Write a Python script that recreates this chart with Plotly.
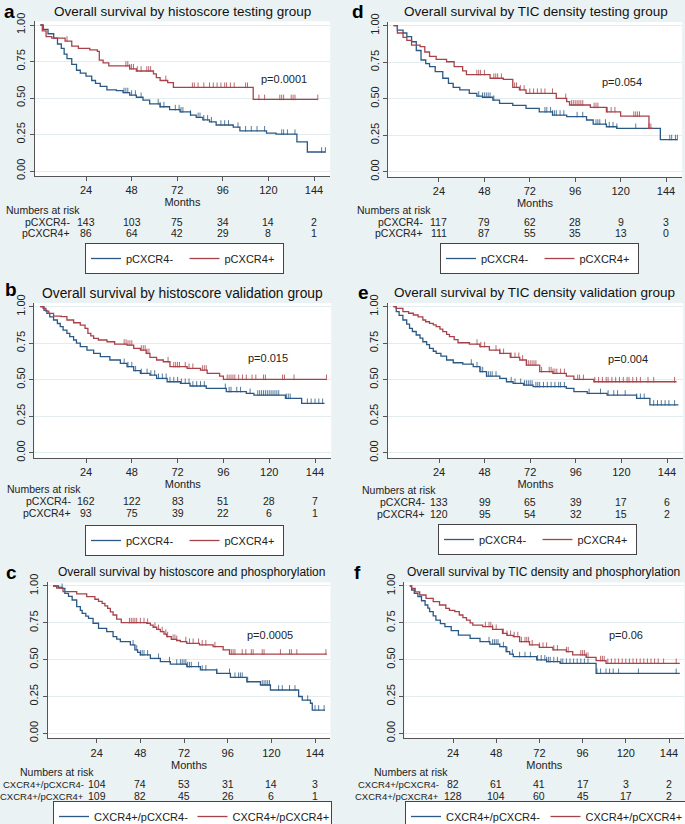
import numpy as np
import plotly.graph_objects as go

W, H = 685, 824
BLUE = "#2b5884"
RED = "#a8424a"
BG = "#eaf2f3"
FONT = "Liberation Sans, Arial, sans-serif"

MONTH_TICKS = [24, 48, 72, 96, 120, 144]

# ---- panel a: histoscore testing group ----
A_NEG_T = [0, 1.5, 4, 7, 9, 11, 12.5, 14, 16.5, 19, 21, 24, 27, 29, 31.5, 35, 40, 43.5, 47, 50.5, 54,
           57.5, 63, 68, 73.5, 79, 82, 85.5, 89, 92.5, 101.5, 105, 119, 124, 135, 140.5, 150]
A_NEG_S = [1, 0.97, 0.94, 0.91, 0.87, 0.84, 0.80, 0.77, 0.73, 0.69, 0.67, 0.65, 0.62, 0.60, 0.58, 0.555,
           0.55, 0.537, 0.52, 0.505, 0.486, 0.46, 0.44, 0.42, 0.405, 0.383, 0.367, 0.35, 0.337, 0.315,
           0.30, 0.275, 0.26, 0.252, 0.20, 0.13, 0.13]
A_NEG_C = [44, 45, 46, 48, 50, 53, 62, 63, 65, 71, 73, 74, 75, 79, 83, 84, 86, 88, 90, 95, 97, 99, 104,
           108, 111, 114, 118, 127, 128, 130, 134, 148, 150]
A_POS_T = [0, 1, 3, 6, 13, 16.5, 20, 26, 30, 31, 33, 36, 47, 50.5, 59.5, 61, 63, 67, 70, 112, 146]
A_POS_S = [1, 0.96, 0.92, 0.91, 0.89, 0.855, 0.84, 0.83, 0.82, 0.76, 0.74, 0.72, 0.70, 0.685, 0.665,
           0.64, 0.62, 0.605, 0.573, 0.49, 0.49]
A_POS_C = [14, 45, 46, 47, 48, 49, 51, 53, 56, 57, 58, 66, 80, 81, 83, 86, 89, 91, 93, 95, 97, 98, 100,
           102, 108, 109, 115, 118, 126, 127, 128, 132, 133, 134, 146]
A_RISK_NEG = [143, 103, 75, 34, 14, 2]
A_RISK_POS = [86, 64, 42, 29, 8, 1]

# ---- panel b: histoscore validation group ----
B_NEG_T = [0, 2, 3.5, 5, 7, 9, 10.5, 12, 14, 15.5, 17.5, 19, 21, 24.5, 28, 31.5, 36.5, 42, 45.5, 49,
           52.5, 57.5, 61, 66.5, 73.5, 78.5, 87, 97.5, 108, 112, 128.5, 137, 149]
B_NEG_S = [1, 0.975, 0.954, 0.93, 0.909, 0.885, 0.863, 0.84, 0.817, 0.795, 0.772, 0.75, 0.726, 0.703,
           0.68, 0.658, 0.635, 0.612, 0.589, 0.562, 0.543, 0.532, 0.509, 0.486, 0.475, 0.457, 0.44,
           0.418, 0.406, 0.395, 0.372, 0.338, 0.338]
B_NEG_C = [44, 46, 48, 50, 53, 56, 58, 60, 62, 64, 66, 68, 70, 72, 74, 76, 78, 80, 82, 84, 86, 97, 99,
           100, 103, 105, 110, 114, 115, 116, 117, 118, 119, 120, 121, 122, 123, 124, 125, 129, 130, 131,
           140, 142, 144, 146, 148]
B_POS_T = [0, 1.5, 3, 4.5, 7, 11, 14, 17.5, 21, 23.5, 25, 26.5, 28, 30.5, 35, 39, 45.5, 49, 52.5, 55.5,
           57.5, 61, 64.5, 68, 77, 84, 87.5, 94, 96, 150]
B_POS_S = [1, 0.989, 0.97, 0.954, 0.936, 0.932, 0.909, 0.89, 0.874, 0.852, 0.817, 0.80, 0.783, 0.772,
           0.76, 0.744, 0.737, 0.715, 0.703, 0.68, 0.653, 0.635, 0.623, 0.589, 0.578, 0.566, 0.543,
           0.525, 0.502, 0.502]
B_POS_C = [44, 45, 46, 47, 48, 53, 54, 55, 56, 57, 67, 70, 71, 72, 73, 76, 78, 80, 85, 86, 87, 98, 99,
           100, 101, 102, 104, 106, 108, 111, 113, 117, 118, 127, 128, 133, 150]
B_RISK_NEG = [162, 122, 83, 51, 28, 7]
B_RISK_POS = [93, 75, 39, 22, 6, 1]

# ---- panel c: histoscore and phosphorylation ----
C_NEG_T = [0, 3, 5, 6.5, 8.5, 10.5, 13, 15, 16, 18, 19.5, 22, 25, 29.5, 33, 35, 37, 42.5, 45, 46.5, 48,
           53.5, 59, 64.5, 73.5, 81, 90, 97.5, 106.5, 114, 119.5, 135, 137, 141.5, 142.5, 149.5]
C_NEG_S = [1, 0.99, 0.984, 0.95, 0.93, 0.905, 0.86, 0.835, 0.814, 0.795, 0.78, 0.747, 0.713, 0.69,
           0.656, 0.64, 0.622, 0.60, 0.566, 0.55, 0.532, 0.509, 0.486, 0.47, 0.452, 0.43, 0.407, 0.38,
           0.35, 0.328, 0.294, 0.25, 0.225, 0.204, 0.158, 0.158]
C_NEG_C = [5, 44, 46, 48, 49, 50, 52, 58, 64, 68, 70, 71, 72, 73, 74, 75, 76, 80, 82, 84, 90, 97, 100,
           102, 103, 104, 107, 115, 116, 117, 118, 119, 124, 126, 130, 133, 140, 144, 146, 149]
C_POS_T = [0, 2, 5.5, 13, 18.5, 23, 25, 27, 28.5, 30, 31.5, 33, 35, 37.5, 51.5, 53.5, 55, 57, 59, 61,
           62.5, 65, 68, 70, 73.5, 80.5, 88, 93.5, 97, 150.5]
C_POS_S = [1, 0.985, 0.962, 0.946, 0.928, 0.91, 0.895, 0.882, 0.865, 0.848, 0.825, 0.803, 0.775, 0.751,
           0.747, 0.735, 0.72, 0.705, 0.69, 0.673, 0.656, 0.638, 0.63, 0.622, 0.611, 0.60, 0.588, 0.566,
           0.538, 0.538]
C_POS_C = [42, 43, 44, 45, 46, 48, 50, 52, 56, 58, 60, 62, 63, 66, 67, 68, 73, 75, 77, 80, 82, 84, 89,
           97, 98, 99, 100, 104, 106, 109, 110, 115, 116, 125, 130, 131, 134, 150]
C_RISK_NEG = [104, 74, 53, 31, 14, 3]
C_RISK_POS = [109, 82, 45, 26, 6, 1]

# ---- panel d: TIC density testing group ----
D_NEG_T = [0, 2, 5, 7, 9.5, 12, 14.5, 17, 19, 22, 26, 29, 31.5, 35, 40, 44, 47, 52.5, 56, 63, 70, 77,
           84, 91.5, 102, 105.5, 112.5, 118, 141, 150]
D_NEG_S = [1, 0.97, 0.95, 0.925, 0.89, 0.83, 0.765, 0.74, 0.72, 0.685, 0.64, 0.605, 0.578, 0.56, 0.537,
           0.518, 0.51, 0.49, 0.468, 0.454, 0.434, 0.41, 0.388, 0.377, 0.354, 0.326, 0.308, 0.297,
           0.22, 0.22]
D_NEG_C = [45, 47, 48, 49, 50, 51, 53, 80, 81, 83, 84, 85, 86, 88, 90, 97, 100, 107, 108, 109, 112,
           114, 116, 118, 128, 146, 147, 149, 150]
D_POS_T = [0, 2, 5, 7, 9.5, 14, 16.5, 19, 22.5, 28, 32, 36.5, 38.5, 51, 58, 63, 66.5, 70, 86, 91.5, 93,
           104, 112.5, 120, 135, 137]
D_POS_S = [1, 0.95, 0.92, 0.90, 0.867, 0.856, 0.82, 0.79, 0.77, 0.753, 0.72, 0.69, 0.665, 0.64, 0.632,
           0.578, 0.56, 0.537, 0.502, 0.48, 0.457, 0.44, 0.41, 0.38, 0.297, 0.297]
D_POS_C = [44, 45, 46, 48, 53, 54, 55, 57, 64, 65, 67, 69, 72, 74, 76, 78, 80, 84, 91, 94, 95, 96, 97,
           98, 99, 100, 106, 107, 108, 113, 115, 117, 127, 128, 129, 130, 135, 136]
D_RISK_NEG = [117, 79, 62, 28, 9, 3]
D_RISK_POS = [111, 87, 55, 35, 13, 0]

# ---- panel e: TIC density validation group ----
E_NEG_T = [0, 1.5, 3, 5, 7, 8.5, 10, 12, 14, 15.5, 17.5, 19, 21, 22.5, 25, 28, 31.5, 36.5, 42, 45.5,
           49, 56, 59.5, 63, 68.5, 73.5, 91, 95, 102, 112.5, 128, 135, 150]
E_NEG_S = [1, 0.966, 0.94, 0.909, 0.88, 0.852, 0.83, 0.806, 0.785, 0.76, 0.74, 0.715, 0.695, 0.68,
           0.662, 0.635, 0.616, 0.607, 0.589, 0.555, 0.525, 0.509, 0.486, 0.475, 0.463, 0.452, 0.44,
           0.418, 0.406, 0.395, 0.372, 0.327, 0.327]
E_NEG_C = [41, 44, 46, 47, 49, 50, 51, 52, 54, 62, 64, 67, 69, 70, 71, 72, 73, 75, 76, 77, 79, 81, 83,
           85, 87, 88, 90, 103, 109, 113, 116, 118, 122, 128, 130, 132, 137, 139, 141, 143, 145, 148]
E_POS_T = [0, 1.5, 5, 8, 10.5, 13, 15.5, 17, 19, 21, 22.5, 24.5, 26, 28, 29.5, 32, 34, 40, 45.5, 50.5,
           56, 61.5, 66.5, 70, 77, 84, 91, 95, 105.5, 149]
E_POS_S = [1, 0.989, 0.966, 0.955, 0.943, 0.93, 0.909, 0.897, 0.886, 0.875, 0.863, 0.846, 0.829, 0.81,
           0.795, 0.775, 0.753, 0.744, 0.726, 0.703, 0.68, 0.653, 0.635, 0.60, 0.555, 0.543, 0.525,
           0.502, 0.486, 0.486]
E_POS_C = [44, 46, 48, 54, 56, 58, 62, 64, 66, 68, 70, 71, 72, 73, 74, 75, 78, 82, 83, 84, 85, 86, 88,
           90, 97, 98, 100, 106, 108, 110, 112, 113, 115, 117, 119, 121, 123, 124, 126, 128, 130, 134,
           137, 148]
E_RISK_NEG = [133, 99, 65, 39, 17, 6]
E_RISK_POS = [120, 95, 54, 32, 15, 2]

# ---- panel f: TIC density and phosphorylation ----
F_NEG_T = [0, 1, 2.5, 4.5, 6.5, 8.5, 10, 11, 13, 14.5, 17, 19.5, 23, 27, 33.5, 39, 44.5, 50, 53.5,
           55.5, 57.5, 70.5, 76, 83.5, 103.5, 150]
F_NEG_S = [1, 0.973, 0.95, 0.928, 0.90, 0.871, 0.85, 0.826, 0.797, 0.769, 0.745, 0.724, 0.697, 0.667,
           0.645, 0.622, 0.606, 0.588, 0.554, 0.537, 0.52, 0.498, 0.486, 0.475, 0.407, 0.407]
F_NEG_C = [44, 46, 47, 48, 49, 52, 54, 57, 61, 64, 67, 71, 73, 75, 76, 77, 78, 80, 82, 84, 85, 87, 89,
           91, 93, 95, 97, 99, 104, 106, 109, 111, 113, 116, 127, 148]
F_POS_T = [0, 1, 3, 5.5, 9, 13, 16.5, 20, 22, 25, 27.5, 29.5, 31.5, 33.5, 35, 40.5, 46, 51.5, 54, 57.5,
           61, 66.5, 72, 79.5, 87, 90.5, 98, 103.5, 109, 150]
F_POS_S = [1, 0.984, 0.96, 0.939, 0.916, 0.894, 0.871, 0.848, 0.835, 0.826, 0.803, 0.785, 0.769, 0.75,
           0.735, 0.724, 0.706, 0.678, 0.665, 0.656, 0.622, 0.60, 0.584, 0.566, 0.554, 0.532, 0.516,
           0.493, 0.475, 0.475]
F_POS_C = [42, 44, 45, 46, 48, 52, 54, 56, 58, 60, 62, 64, 65, 66, 68, 72, 74, 76, 80, 82, 87, 88, 95,
           96, 97, 98, 99, 106, 107, 108, 110, 112, 114, 116, 118, 120, 122, 124, 126, 128, 130, 132,
           134, 136, 138, 141, 148]
F_RISK_NEG = [82, 61, 41, 17, 3, 2]
F_RISK_POS = [128, 104, 60, 45, 17, 2]

LABELS_P = ["pCXCR4-", "pCXCR4+"]
LABELS_C = ["CXCR4+/pCXCR4-", "CXCR4+/pCXCR4+"]

# pixel layout of each panel: tick 24 x, tick 144 x, y of 1.00, y of 0.00
panels = [
    dict(letter="a", title="Overall survival by histoscore testing group", tsize=13.5, p="p=0.0001",
         pxy=(128, 0.63), neg=(A_NEG_T, A_NEG_S, A_NEG_C), pos=(A_POS_T, A_POS_S, A_POS_C),
         risk=(A_RISK_NEG, A_RISK_POS), labels=LABELS_P, lsize=10.5, geo=(86, 314, 25, 171),
         letter_xy=(9, 11), title_xy=(182, 12), nar_x=4, lab_x=72, nar_y=(210, 222, 233), leg=(85, 243, 195)),
    dict(letter="b", title="Overall survival by histoscore validation group", tsize=13.8, p="p=0.015",
         pxy=(119.5, 0.65), neg=(B_NEG_T, B_NEG_S, B_NEG_C), pos=(B_POS_T, B_POS_S, B_POS_C),
         risk=(B_RISK_NEG, B_RISK_POS), labels=LABELS_P, lsize=10.5, geo=(86, 315, 306.7, 452.7),
         letter_xy=(11, 290), title_xy=(183, 293), nar_x=5, lab_x=73, nar_y=(489, 501, 513), leg=(85, 525, 195)),
    dict(letter="c", title="Overall survival by histoscore and phosphorylation", tsize=12, p="p=0.0005",
         pxy=(119, 0.67), neg=(C_NEG_T, C_NEG_S, C_NEG_C), pos=(C_POS_T, C_POS_S, C_POS_C),
         risk=(C_RISK_NEG, C_RISK_POS), labels=LABELS_C, lsize=9.5, geo=(96.7, 315, 586, 733.3),
         letter_xy=(11, 572), title_xy=(191, 572), nar_x=18, lab_x=86, nar_y=(772, 784, 796), leg=(53, 801, 275)),
    dict(letter="d", title="Overall survival by TIC density testing group", tsize=13.5, p="p=0.054",
         pxy=(120.5, 0.615), neg=(D_NEG_T, D_NEG_S, D_NEG_C), pos=(D_POS_T, D_POS_S, D_POS_C),
         risk=(D_RISK_NEG, D_RISK_POS), labels=LABELS_P, lsize=10.5, geo=(439, 666, 25.7, 171.7),
         letter_xy=(358, 11), title_xy=(536, 12), nar_x=355, lab_x=425, nar_y=(210, 222, 233), leg=(440, 243, 195)),
    dict(letter="e", title="Overall survival by TIC density validation group", tsize=13.5, p="p=0.004",
         pxy=(123.5, 0.64), neg=(E_NEG_T, E_NEG_S, E_NEG_C), pos=(E_POS_T, E_POS_S, E_POS_C),
         risk=(E_RISK_NEG, E_RISK_POS), labels=LABELS_P, lsize=10.5, geo=(439, 667, 306.7, 452.7),
         letter_xy=(363, 292), title_xy=(534, 292), nar_x=360, lab_x=427, nar_y=(490, 502, 514), leg=(438, 524, 195)),
    dict(letter="f", title="Overall survival by TIC density and phosphorylation", tsize=12, p="p=0.06",
         pxy=(120, 0.67), neg=(F_NEG_T, F_NEG_S, F_NEG_C), pos=(F_POS_T, F_POS_S, F_POS_C),
         risk=(F_RISK_NEG, F_RISK_POS), labels=LABELS_C, lsize=9.5, geo=(453, 669, 586, 733.3),
         letter_xy=(357, 572), title_xy=(543, 572), nar_x=372, lab_x=441, nar_y=(772, 784, 796), leg=(405, 801, 277)),
]

X_RANGE = [-3, 152.5]
Y_RANGE = [-0.035, 1.025]
TABLE_FONT = 10.5


def surv_at(t, s, c):
    idx = np.searchsorted(np.asarray(t), np.asarray(c), side="right") - 1
    return np.asarray(s)[idx]


fig = go.Figure()
annotations = []
layout = dict(
    width=W, height=H, margin=dict(l=0, r=0, t=0, b=0, autoexpand=False),
    paper_bgcolor=BG, plot_bgcolor="white",
    font=dict(family=FONT, size=11, color="#222"),
)

for k, pnl in enumerate(panels, start=1):
    xa = "x" if k == 1 else f"x{k}"
    ya = "y" if k == 1 else f"y{k}"
    leg = "legend" if k == 1 else f"legend{k}"
    x24, x144, y1, y0 = pnl["geo"]
    ppm = (x144 - x24) / 120
    ppu = y0 - y1
    left = x24 + (X_RANGE[0] - 24) * ppm
    right = x24 + (X_RANGE[1] - 24) * ppm
    top = y1 - (Y_RANGE[1] - 1) * ppu
    bottom = y0 - Y_RANGE[0] * ppu

    layout["xaxis" if k == 1 else f"xaxis{k}"] = dict(
        domain=[left / W, right / W], range=X_RANGE, anchor=ya, automargin=False,
        tickvals=MONTH_TICKS, ticks="outside", ticklen=4, tickcolor="#555",
        showline=True, linecolor="#555", linewidth=1, showgrid=False, zeroline=False,
        tickfont=dict(size=11), title=dict(text="Months", font=dict(size=11), standoff=0),
    )
    layout["yaxis" if k == 1 else f"yaxis{k}"] = dict(
        domain=[1 - bottom / H, 1 - top / H], range=Y_RANGE, anchor=xa, automargin=False,
        tickvals=[0, 0.25, 0.5, 0.75, 1.0], ticktext=["0.00", "0.25", "0.50", "0.75", "1.00"],
        tickangle=-90, ticks="outside", ticklen=4, tickcolor="#555",
        showline=True, linecolor="#555", linewidth=1, showgrid=True, gridcolor="#e3edf0",
        zeroline=False, tickfont=dict(size=11),
    )

    for grp, color, name in ((pnl["neg"], BLUE, pnl["labels"][0]), (pnl["pos"], RED, pnl["labels"][1])):
        t, s, c = grp
        fig.add_trace(go.Scatter(
            x=t, y=s, mode="lines", line=dict(color=color, width=1.3, shape="hv"),
            name=name, xaxis=xa, yaxis=ya, legend=leg, hoverinfo="skip",
        ))
        fig.add_trace(go.Scatter(
            x=c, y=surv_at(t, s, c) + 0.014, mode="markers",
            marker=dict(symbol="line-ns", size=4, color=color, line=dict(width=0.8, color=color)),
            xaxis=xa, yaxis=ya, showlegend=False, hoverinfo="skip",
        ))

    lx, ly, lw = pnl["leg"]
    layout[leg] = dict(
        x=lx / W, y=1 - ly / H, xanchor="left", yanchor="top", orientation="h",
        bgcolor="white", bordercolor="#444", borderwidth=1,
        font=dict(size=11), entrywidth=lw / 2 - 44, entrywidthmode="pixels",
        itemwidth=30, tracegroupgap=0,
    )

    # panel letter and title
    annotations.append(dict(
        text=f"<b>{pnl['letter']}</b>", xref="paper", yref="paper",
        x=pnl["letter_xy"][0] / W, y=1 - pnl["letter_xy"][1] / H,
        xanchor="center", yanchor="middle", showarrow=False, font=dict(size=19, color="black"),
    ))
    annotations.append(dict(
        text=pnl["title"], xref="paper", yref="paper", x=pnl["title_xy"][0] / W, y=1 - pnl["title_xy"][1] / H,
        xanchor="center", yanchor="middle", showarrow=False, font=dict(size=pnl["tsize"], color="#111"),
    ))
    # p value
    annotations.append(dict(
        text=pnl["p"], xref=xa, yref=ya, x=pnl["pxy"][0], y=pnl["pxy"][1],
        xanchor="center", yanchor="middle", showarrow=False, font=dict(size=11),
    ))
    # numbers at risk table
    hy, r1, r2 = pnl["nar_y"]
    annotations.append(dict(
        text="Numbers at risk", xref="paper", yref="paper", x=pnl["nar_x"] / W, y=1 - hy / H,
        xanchor="left", yanchor="middle", showarrow=False, font=dict(size=TABLE_FONT),
    ))
    for row_y, label, counts in ((r1, pnl["labels"][0], pnl["risk"][0]), (r2, pnl["labels"][1], pnl["risk"][1])):
        annotations.append(dict(
            text=label, xref="paper", yref="paper", x=pnl["lab_x"] / W, y=1 - row_y / H,
            xanchor="right", yanchor="middle", showarrow=False, font=dict(size=pnl["lsize"]),
        ))
        for m, n in zip(MONTH_TICKS, counts):
            annotations.append(dict(
                text=str(n), xref=xa, yref="paper", x=m, y=1 - row_y / H,
                xanchor="center", yanchor="middle", showarrow=False, font=dict(size=TABLE_FONT),
            ))

layout["annotations"] = annotations
fig.update_layout(**layout)
fig.write_html(
    "out.html",
    config={"displayModeBar": False},
    post_script="document.body.style.margin='0';document.body.style.overflow='hidden';",
)
